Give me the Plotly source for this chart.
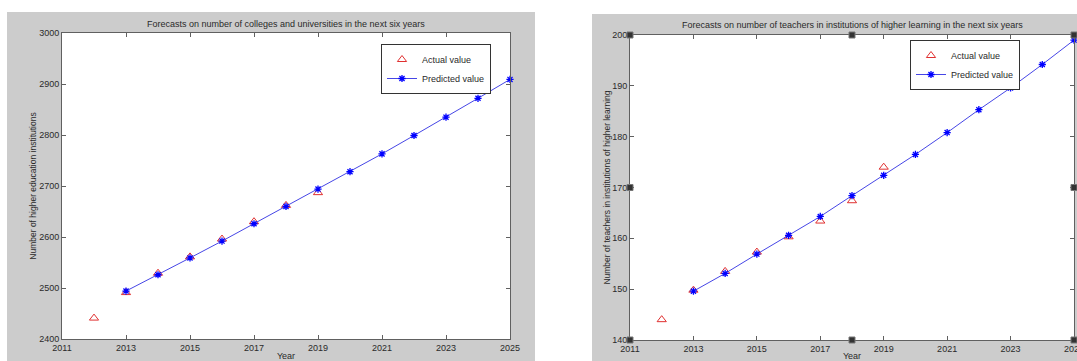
import plotly.graph_objects as go

# ---- data: left chart (colleges and universities) ----
years_actual = [2012, 2013, 2014, 2015, 2016, 2017, 2018, 2019]
years_pred = [2013, 2014, 2015, 2016, 2017, 2018, 2019, 2020, 2021, 2022, 2023, 2024, 2025]

colleges_actual = [2441, 2491, 2529, 2561, 2596, 2630, 2662, 2687]
colleges_pred = [2494, 2526, 2559, 2592, 2626, 2660, 2694, 2728, 2763, 2799, 2835, 2872, 2909]

# ---- data: right chart (teachers) ----
teachers_actual = [144.0, 149.8, 153.5, 157.3, 160.3, 163.4, 167.4, 174.0]
teachers_pred = [149.6, 153.1, 156.9, 160.6, 164.3, 168.4, 172.4, 176.5, 180.8, 185.3, 189.6, 194.2, 199.0]

x_ticks = [2011, 2013, 2015, 2017, 2019, 2021, 2023, 2025]
y1_ticks = [2400, 2500, 2600, 2700, 2800, 2900, 3000]
y2_ticks = [140, 150, 160, 170, 180, 190, 200]

title1 = "Forecasts on number of colleges and universities in the next six years"
title2 = "Forecasts on number of teachers in institutions of higher learning in the next six years"
ylab1 = "Number of higher education institutions"
ylab2 = "Number of teachers in institutions of higher learning"

W, H = 1077, 361

FONT = "Liberation Sans, Arial, sans-serif"
GRAY = "#cccccc"
AX = "#606060"
TXT = "#2a2a2a"

def px(v):
    return max(0.0, min(1.0, v / W))

def py(v):
    return max(0.0, min(1.0, 1 - v / H))

fig = go.Figure()

tri = dict(symbol="triangle-up-open", size=8, color="#e03030", line=dict(width=1, color="#e03030"))
star = dict(symbol="asterisk-open", size=6, color="#0000ff", line=dict(width=1.3, color="#0000ff"))
line = dict(color="#4646e6", width=1)

fig.add_trace(go.Scatter(x=years_actual, y=colleges_actual, mode="markers", marker=tri,
                         name="Actual value", xaxis="x", yaxis="y", legend="legend", cliponaxis=False))
fig.add_trace(go.Scatter(x=years_pred, y=colleges_pred, mode="lines+markers", marker=star, line=line,
                         name="Predicted value", xaxis="x", yaxis="y", legend="legend", cliponaxis=False))
fig.add_trace(go.Scatter(x=years_actual, y=teachers_actual, mode="markers", marker=tri,
                         name="Actual value", xaxis="x2", yaxis="y2", legend="legend2", cliponaxis=False))
fig.add_trace(go.Scatter(x=years_pred, y=teachers_pred, mode="lines+markers", marker=star, line=line,
                         name="Predicted value", xaxis="x2", yaxis="y2", legend="legend2", cliponaxis=False))

axcommon = dict(showline=True, linecolor=AX, linewidth=1, mirror="ticks", ticks="inside",
                ticklen=4, tickcolor=AX, showgrid=False, zeroline=False, automargin=False,
                ticklabeloverflow="allow",
                tickfont=dict(family=FONT, size=9, color=TXT))

fig.update_layout(
    width=W, height=H, autosize=False,
    margin=dict(l=0, r=0, t=0, b=0, pad=0),
    paper_bgcolor="white", plot_bgcolor="white",
    showlegend=True,
    font=dict(family=FONT, size=9, color=TXT),
    xaxis=dict(domain=[px(62), px(510)], range=[2011, 2025], tickvals=x_ticks, anchor="y",
               title=dict(text="Year", standoff=2, font=dict(size=9)), **axcommon),
    yaxis=dict(domain=[py(339), py(33)], range=[2400, 3000], tickvals=y1_ticks, anchor="x",
               title=dict(text=ylab1, standoff=1, font=dict(size=8.5)), **axcommon),
    xaxis2=dict(domain=[px(630), px(1074)], range=[2011, 2025], tickvals=x_ticks, anchor="y2",
                title=dict(text="Year", standoff=2, font=dict(size=9)), **axcommon),
    yaxis2=dict(domain=[py(340), py(35)], range=[140, 200], tickvals=y2_ticks, anchor="x2",
                title=dict(text=ylab2, standoff=0, font=dict(size=8.5)), **axcommon),
    legend=dict(x=px(491), y=py(44), xanchor="right", yanchor="top", bgcolor="white",
                bordercolor="#333333", borderwidth=1, font=dict(family=FONT, size=9, color=TXT),
                tracegroupgap=0, itemwidth=30),
    legend2=dict(x=px(1020), y=py(40), xanchor="right", yanchor="top", bgcolor="white",
                 bordercolor="#333333", borderwidth=1, font=dict(family=FONT, size=9, color=TXT),
                 tracegroupgap=0, itemwidth=30),
)

# grey MATLAB figure backgrounds
shapes = [
    dict(type="rect", xref="paper", yref="paper", x0=px(7), x1=px(535), y0=0, y1=py(12),
         fillcolor=GRAY, line=dict(width=0), layer="below"),
    dict(type="rect", xref="paper", yref="paper", x0=px(592), x1=1, y0=0, y1=py(14),
         fillcolor=GRAY, line=dict(width=0), layer="below"),
]
# white plot areas
shapes += [
    dict(type="rect", xref="x domain", yref="y domain", x0=0, x1=1, y0=0, y1=1,
         fillcolor="white", line=dict(width=0), layer="below"),
    dict(type="rect", xref="x2 domain", yref="y2 domain", x0=0, x1=1, y0=0, y1=1,
         fillcolor="white", line=dict(width=0), layer="below"),
]
# selection handles on the right axes
for hx, hy in [(0, 0), (0.5, 0), (1, 0), (0, 0.5), (1, 0.5), (0, 1), (0.5, 1), (1, 1)]:
    shapes.append(dict(type="rect", xref="x2 domain", yref="y2 domain",
                       xsizemode="pixel", ysizemode="pixel", xanchor=hx, yanchor=hy,
                       x0=-3, x1=3, y0=-3, y1=3, fillcolor="#333333",
                       line=dict(width=1, color="#777777"), layer="above"))
fig.update_layout(shapes=shapes)

# titles
fig.add_annotation(text=title1, xref="paper", yref="paper", x=px(286), y=py(24), showarrow=False,
                   font=dict(family=FONT, size=9, color=TXT), xanchor="center", yanchor="middle")
fig.add_annotation(text=title2, xref="paper", yref="paper", x=px(852), y=py(25), showarrow=False,
                   font=dict(family=FONT, size=9, color=TXT), xanchor="center", yanchor="middle")

fig.write_html(
    "out.html",
    config={"displayModeBar": False},
    post_script="document.body.style.margin='0px';document.body.style.overflow='hidden';",
)
